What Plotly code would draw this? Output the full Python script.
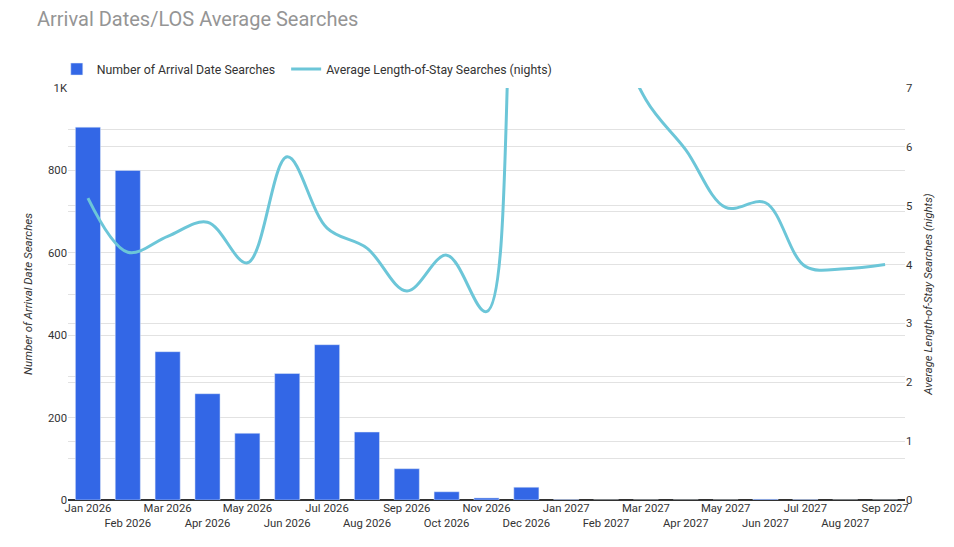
import plotly.graph_objects as go

# Data
months = ["Jan 2026", "Feb 2026", "Mar 2026", "Apr 2026", "May 2026", "Jun 2026",
          "Jul 2026", "Aug 2026", "Sep 2026", "Oct 2026", "Nov 2026", "Dec 2026",
          "Jan 2027", "Feb 2027", "Mar 2027", "Apr 2027", "May 2027", "Jun 2027",
          "Jul 2027", "Aug 2027", "Sep 2027"]
arrival_searches = [905, 800, 360, 258, 162, 307, 377, 165, 76, 20, 5, 31,
                    1, 0, 0, 0, 0, 2, 1, 0, 0]
avg_los = [5.13, 4.21, 4.48, 4.72, 4.03, 5.83, 4.62, 4.28, 3.55, 4.16, 3.2, 11,
           12, 8.5, 6.8, 5.95, 4.97, 5.05, 3.97, 3.93, 4.0]

left_ticks = [0, 100, 200, 300, 400, 500, 600, 700, 800, 900, 1000]
left_labels = ["0", "", "200", "", "400", "", "600", "", "800", "", "1K"]

#Colors / fonts
bar_color = "#3367e6"
line_color = "#6cc6d8"
grid_color = "#e2e2e2"
font_family = "Roboto"

# page body adds an 8px offset, so the figure is 8px smaller
W, H = 946, 539

# two-row x labels
x_labels = [m if i % 2 == 0 else "<br>" + m for i, m in enumerate(months)]

fig = go.Figure()
# nbsp padding widens the gap between the two legend entries
fig.add_trace(go.Bar(x=months, y=arrival_searches, name="Number of Arrival Date Searches\u00a0\u00a0",
                     marker=dict(color=bar_color), yaxis="y"))
fig.add_trace(go.Scatter(x=months, y=avg_los, mode="lines", name="Average Length-of-Stay Searches (nights)",
                         line=dict(color=line_color, width=3, shape="spline", smoothing=1.0),
                         yaxis="y2"))

fig.update_layout(
    width=W,
    height=H,
    paper_bgcolor="white",
    plot_bgcolor="white",
    font=dict(family=font_family, size=11, color="#333333"),
    margin=dict(l=60, r=49, t=80, b=47),
    bargap=0.37,
    showlegend=True,
    title=dict(
        text="Arrival Dates/LOS Average Searches",
        font=dict(family=font_family, size=20, color="#959595"),
        xref="container", x=29 / W, xanchor="left",
        yref="container", y=1 - 11 / H, yanchor="middle"
    ),
    legend=dict(
        orientation="h",
        x=-0.0134, xanchor="left",
        y=1.046, yanchor="middle",
        bgcolor="rgba(0,0,0,0)",
        font=dict(size=12.3, color="#333333"),
        itemwidth=30
    ),
    xaxis=dict(
        type="category",
        tickmode="array",
        tickvals=months,
        ticktext=x_labels,
        tickangle=0,
        showgrid=False,
        ticks="",
        tickfont=dict(size=11.3, color="#333333"),
        showline=False
    ),
    yaxis=dict(
        range=[0, 1000],
        tickmode="array",
        tickvals=left_ticks,
        ticktext=left_labels,
        showgrid=True,
        gridcolor=grid_color,
        zeroline=True,
        zerolinecolor="#333333",
        zerolinewidth=1.5,
        tickfont=dict(size=11.3, color="#333333"),
        title=dict(text="<i>Number of Arrival Date Searches</i>",
                   font=dict(size=11.5, color="#333333"), standoff=12)
    ),
    yaxis2=dict(
        range=[0, 7],
        overlaying="y",
        side="right",
        dtick=1,
        showgrid=True,
        gridcolor=grid_color,
        zeroline=False,
        tickfont=dict(size=11.3, color="#333333"),
        title=dict(text="<i>Average Length-of-Stay Searches (nights)</i>",
                   font=dict(size=11.3, color="#333333"), standoff=12)
    )
)

fig.write_html("out.html")
